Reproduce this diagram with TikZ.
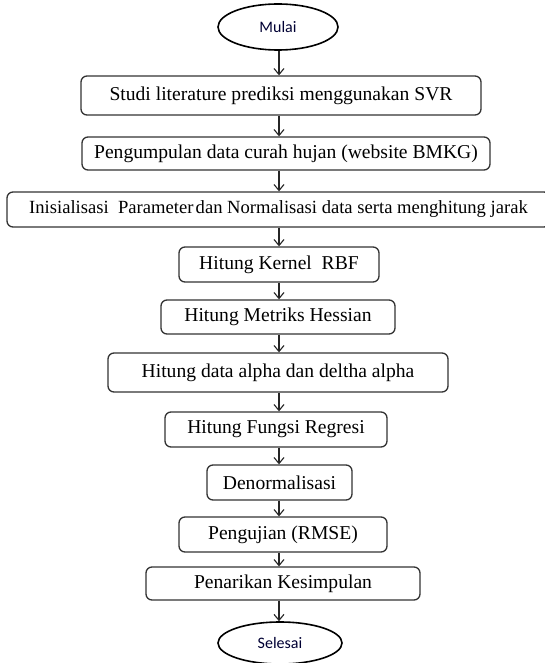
\documentclass[tikz,border=0pt]{standalone}
\usepackage{fontspec}
\setmainfont{Liberation Serif}
\newfontfamily\calib{Carlito}
\usetikzlibrary{shapes.geometric,arrows.meta}
\begin{document}
\begin{tikzpicture}[x=1pt,y=-1pt,
  box/.style={draw=black!80,line width=1.3pt,rounded corners=6pt,inner sep=0pt,
    font=\fontsize{19.6}{22}\selectfont,text=black},
  term/.style={draw=black,line width=1.6pt,ellipse,inner sep=0pt,
    font=\calib\fontsize{16}{19}\selectfont,text=black!80!blue},
  arr/.style={draw=black!85,line width=1.1pt,-{Straight Barb[length=6pt,width=10pt,line width=1.1pt]}}]
\useasboundingbox (0,0) rectangle (545,663);
\coordinate (spine) at (279,0);
\node[term,minimum width=120pt,minimum height=46pt] (mulai) at (278,27) {Mulai};
\node[box,minimum width=400pt,minimum height=39pt] (b1) at (281,95.5) {Studi literature prediksi menggunakan SVR};
\node[box,minimum width=408pt,minimum height=33pt] (b2) at (286,153.5) {Pengumpulan data curah hujan (website BMKG)};
\node[box,minimum width=543pt,minimum height=35pt,font=\fontsize{18.6}{22}\selectfont] (b3) at (278.5,209.5) {Inisialisasi~ Parameter\hspace{0.12em}dan Normalisasi data serta menghitung jarak};
\node[box,minimum width=200pt,minimum height=35pt] (b4) at (279,264.5) {Hitung Kernel~ RBF};
\node[box,minimum width=234pt,minimum height=34pt] (b5) at (278,317) {Hitung Metriks Hessian};
\node[box,minimum width=340pt,minimum height=39pt] (b6) at (278,372.5) {Hitung data alpha dan deltha alpha};
\node[box,minimum width=222pt,minimum height=35pt] (b7) at (276,429.5) {Hitung Fungsi Regresi};
\node[box,minimum width=145pt,minimum height=35pt] (b8) at (279.5,482.5) {Denormalisasi};
\node[box,minimum width=208pt,minimum height=35pt] (b9) at (283,534.5) {Pengujian (RMSE)};
\node[box,minimum width=274pt,minimum height=33pt] (b10) at (283,583.5) {Penarikan Kesimpulan};
\node[term,minimum width=124pt,minimum height=42pt] (selesai) at (280,643) {Selesai};
\foreach \a/\b in {mulai/b1,b1/b2,b2/b3,b3/b4,b4/b5,b5/b6,b6/b7,b7/b8,b8/b9,b9/b10,b10/selesai}
  \draw[arr] (\a.south -| spine) -- (\b.north -| spine);
\end{tikzpicture}
\end{document}
